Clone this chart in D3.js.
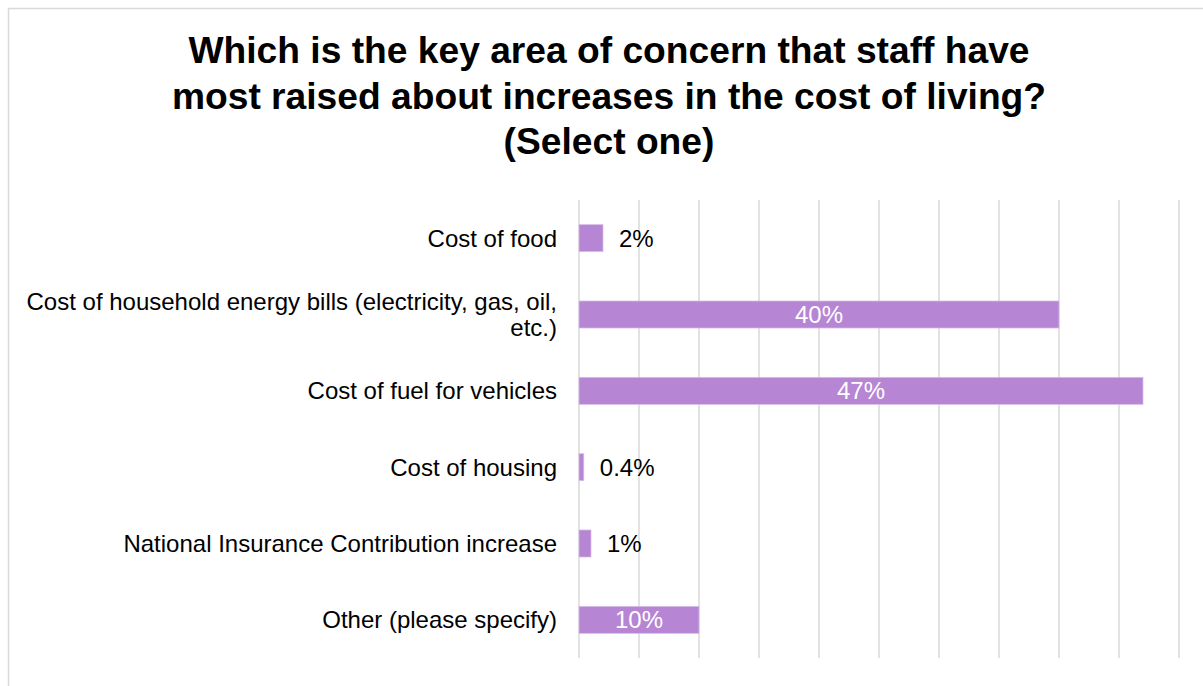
<!DOCTYPE html>
<html>
<head>
<meta charset="utf-8">
<script src="https://cdn.jsdelivr.net/npm/d3@7"></script>
<style>
  html, body { margin: 0; padding: 0; background: #fff; }
  svg { display: block; font-family: "Liberation Sans", Arial, sans-serif; }
</style>
</head>
<body>
<svg id="chart" width="1203" height="686"></svg>
<script>
// Survey answers, top to bottom
const categories = [
  "Cost of food",
  "Cost of household energy bills (electricity, gas, oil, etc.)",
  "Cost of fuel for vehicles",
  "Cost of housing",
  "National Insurance Contribution increase",
  "Other (please specify)"
];
// Share of respondents (%)
const shares = [2, 40, 47, 0.4, 1, 10];
// Text shown next to / inside each bar
const valueLabels = ["2%", "40%", "47%", "0.4%", "1%", "10%"];
// Gridline positions on the value axis (%)
const gridTicks = [0, 5, 10, 15, 20, 25, 30, 35, 40, 45, 50];
const titleLines = [
  "Which is the key area of concern that staff have",
  "most raised about increases in the cost of living?",
  "(Select one)"
];

const svg = d3.select("#chart");
const W = 1203, H = 686;
const barColor = "#b685d4";
const gridColor = "#d9d9d9";

// chart frame (runs off the right and bottom edges)
svg.append("rect")
  .attr("x", 8.5).attr("y", 8.5)
  .attr("width", W + 20).attr("height", H + 20)
  .attr("fill", "#fff")
  .attr("stroke", gridColor).attr("stroke-width", 1.5);

// title
const title = svg.append("text")
  .attr("text-anchor", "middle")
  .attr("font-size", 37.2)
  .attr("font-weight", "bold")
  .attr("fill", "#000");
titleLines.forEach((t, i) => {
  title.append("tspan").attr("x", 609).attr("y", 63 + i * 45.5).text(t);
});

const plot = { left: 579, right: 1179, top: 200, bottom: 658 };

const x = d3.scaleLinear().domain([0, 50]).range([plot.left, plot.right]);
const y = d3.scaleBand()
  .domain(categories)
  .range([plot.top, plot.bottom])
  .paddingInner(0.646)
  .paddingOuter(0.323);

// vertical gridlines
svg.append("g")
  .selectAll("line")
  .data(gridTicks)
  .join("line")
  .attr("x1", d => x(d)).attr("x2", d => x(d))
  .attr("y1", plot.top).attr("y2", plot.bottom)
  .attr("stroke", gridColor).attr("stroke-width", 1.5);

// category axis labels (right aligned, long one wraps)
const wrapAt = 545;
const labelSize = 24;
const catG = svg.append("g").attr("font-size", labelSize).attr("fill", "#000");
categories.forEach(c => {
  const cy = y(c) + y.bandwidth() / 2;
  const text = catG.append("text").attr("text-anchor", "end");
  // greedy word wrap by measured width
  const words = c.split(" ");
  const lines = [];
  let cur = "";
  const probe = catG.append("text").attr("visibility", "hidden");
  words.forEach(w => {
    const trial = cur ? cur + " " + w : w;
    probe.text(trial);
    if (probe.node().getComputedTextLength() > wrapAt && cur) {
      lines.push(cur);
      cur = w;
    } else {
      cur = trial;
    }
  });
  lines.push(cur);
  probe.remove();
  const lh = 26;
  const first = cy - (lines.length - 1) * lh / 2;
  lines.forEach((l, i) => {
    text.append("tspan")
      .attr("x", 557)
      .attr("y", first + i * lh)
      .attr("dy", "0.35em")
      .text(l);
  });
});

// bars
svg.append("g")
  .selectAll("rect")
  .data(shares)
  .join("rect")
  .attr("x", x(0))
  .attr("y", (d, i) => y(categories[i]))
  .attr("width", d => x(d) - x(0))
  .attr("height", y.bandwidth())
  .attr("fill", barColor)
  .attr("stroke", "#d7bde8")
  .attr("stroke-width", 0.75);

// value labels: inside (white, centred) for wide bars, outside otherwise
svg.append("g")
  .attr("font-size", labelSize)
  .selectAll("text")
  .data(shares)
  .join("text")
  .attr("y", (d, i) => y(categories[i]) + y.bandwidth() / 2)
  .attr("dy", "0.35em")
  .each(function (d, i) {
    const sel = d3.select(this);
    if (d >= 5) {
      sel.attr("x", (x(0) + x(d)) / 2).attr("text-anchor", "middle").attr("fill", "#fff");
    } else {
      sel.attr("x", x(d) + 16).attr("text-anchor", "start").attr("fill", "#000");
    }
  })
  .text((d, i) => valueLabels[i]);
</script>
</body>
</html>
